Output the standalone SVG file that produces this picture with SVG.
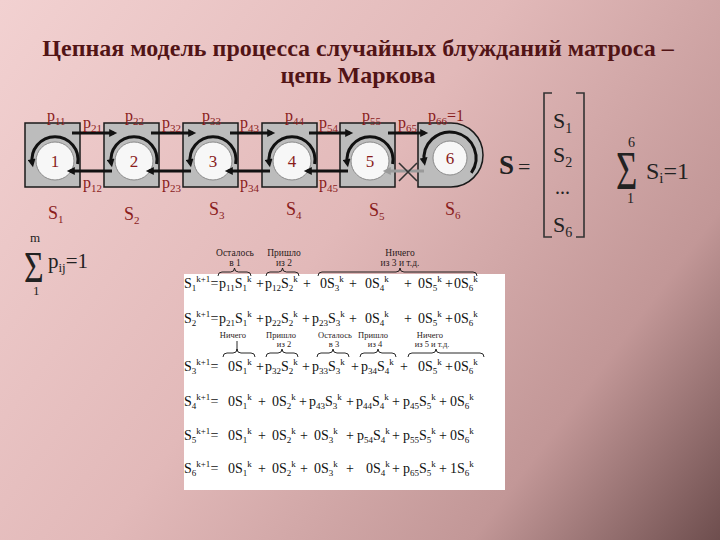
<svg xmlns="http://www.w3.org/2000/svg" width="720" height="540" viewBox="0 0 720 540">
<defs>
<linearGradient id="bg" x1="0" y1="0" x2="720" y2="540" gradientUnits="userSpaceOnUse">
<stop offset="0" stop-color="#f2d1d1"/>
<stop offset="0.45" stop-color="#e2b9b9"/>
<stop offset="0.78" stop-color="#c29797"/>
<stop offset="1" stop-color="#6e4e4e"/>
</linearGradient>
<marker id="ah" viewBox="0 0 10 10" refX="6" refY="5" markerWidth="9" markerHeight="8" markerUnits="userSpaceOnUse" orient="auto"><path d="M0,0 L10,5 L0,10 z" fill="#111"/></marker>
<marker id="ahg" viewBox="0 0 10 10" refX="6" refY="5" markerWidth="9" markerHeight="8" markerUnits="userSpaceOnUse" orient="auto"><path d="M0,0 L10,5 L0,10 z" fill="#9a9a9a"/></marker>
</defs>
<style>
.t{font-family:"Liberation Serif",serif;font-weight:bold;font-size:24px;fill:#521416;text-anchor:middle}
.lb{font-family:"Liberation Serif",serif;font-size:16px;fill:#8a1c1c}
.sl{font-family:"Liberation Serif",serif;font-size:18px;fill:#8a1c1c}
.ls{font-size:11px}
.box{fill:#bcbcbc;stroke:#1a1a1a;stroke-width:1.5}
.cir{fill:#f7f7f7;stroke:#8a8a8a;stroke-width:1}
.arc{fill:none;stroke:#111;stroke-width:3;marker-end:url(#ah)}
.ar{stroke:#111;stroke-width:3;marker-end:url(#ah)}
.arg{stroke:#9a9a9a;stroke-width:3;marker-end:url(#ahg)}
.num{font-family:"Liberation Serif",serif;font-size:17px;fill:#8a1c1c;text-anchor:middle}
.m{font-family:"Liberation Serif",serif;fill:#222}
.e{font-family:"Liberation Serif",serif;font-size:14px;fill:#111}
.s{font-size:9px}
.an{font-family:"Liberation Serif",serif;font-size:9.5px;fill:#2a1a1a;text-anchor:middle}
.an2{font-family:"Liberation Serif",serif;font-size:8.5px;fill:#2a1a1a;text-anchor:middle}
.br{fill:none;stroke:#111;stroke-width:0.9}
</style>
<rect width="720" height="540" fill="url(#bg)"/>
<g id="title">
<text class="t" x="358" y="56">Цепная модель процесса случайных блужданий матроса –</text>
<text class="t" x="358" y="83">цепь Маркова</text>
</g>
<g id="s1">
<rect class="box" x="25" y="123" width="55" height="64"/>
<circle class="cir" cx="55" cy="161" r="19"/>
<text class="num" x="55" y="167">1</text>
<path class="arc" d="M77.6,164 A23,23 0 1 0 32.4,164"/>
<text class="sl" x="48" y="219">S<tspan class="ls" dy="4">1</tspan></text>
</g>
<g id="s2">
<rect class="box" x="104" y="123" width="55" height="64"/>
<circle class="cir" cx="134" cy="161" r="19"/>
<text class="num" x="134" y="167">2</text>
<path class="arc" d="M156.6,164 A23,23 0 1 0 111.4,164"/>
<text class="sl" x="124" y="220">S<tspan class="ls" dy="4">2</tspan></text>
</g>
<g id="s3">
<rect class="box" x="183" y="123" width="55" height="64"/>
<circle class="cir" cx="213" cy="161" r="19"/>
<text class="num" x="213" y="167">3</text>
<path class="arc" d="M235.6,164 A23,23 0 1 0 190.4,164"/>
<text class="sl" x="209" y="215">S<tspan class="ls" dy="4">3</tspan></text>
</g>
<g id="s4">
<rect class="box" x="262" y="123" width="55" height="64"/>
<circle class="cir" cx="292" cy="161" r="19"/>
<text class="num" x="292" y="167">4</text>
<path class="arc" d="M314.6,164 A23,23 0 1 0 269.4,164"/>
<text class="sl" x="286" y="215">S<tspan class="ls" dy="4">4</tspan></text>
</g>
<g id="s5">
<rect class="box" x="340" y="123" width="55" height="64"/>
<circle class="cir" cx="370" cy="161" r="19"/>
<text class="num" x="370" y="167">5</text>
<path class="arc" d="M392.6,164 A23,23 0 1 0 347.4,164"/>
<text class="sl" x="369" y="216">S<tspan class="ls" dy="4">5</tspan></text>
</g>
<g id="s6">
<path class="box" d="M418,123 H451 A32,32 0 0 1 451,187 H418 Z"/>
<circle class="cir" cx="450" cy="158" r="17"/>
<text class="num" x="450" y="164">6</text>
<path class="arc" d="M471.3,172.9 A26,26 0 1 0 424.4,162.5"/>
<text class="sl" x="445" y="215">S<tspan class="ls" dy="4">6</tspan></text>
</g>
<g id="connectors">
<line class="ar" x1="72" y1="133" x2="114" y2="133"/>
<line class="ar" x1="151" y1="133" x2="193" y2="133"/>
<line class="ar" x1="230" y1="133" x2="272" y2="133"/>
<line class="ar" x1="309" y1="133" x2="350" y2="133"/>
<line class="ar" x1="388" y1="133" x2="425" y2="133"/>
<line class="ar" x1="112" y1="171" x2="70" y2="171"/>
<line class="ar" x1="191" y1="171" x2="149" y2="171"/>
<line class="ar" x1="270" y1="171" x2="228" y2="171"/>
<line class="ar" x1="348" y1="171" x2="307" y2="171"/>
<line class="arg" x1="424" y1="171" x2="386" y2="171"/>
<path d="M399,163 L417,181 M399,181 L417,163" stroke="#333" stroke-width="1.6"/>
</g>
<g id="labels">
<text class="lb" x="47" y="121">p<tspan class="ls" dy="4">11</tspan></text>
<text class="lb" x="125" y="121">p<tspan class="ls" dy="4">22</tspan></text>
<text class="lb" x="202" y="121">p<tspan class="ls" dy="4">33</tspan></text>
<text class="lb" x="285" y="121">p<tspan class="ls" dy="4">44</tspan></text>
<text class="lb" x="362" y="121">p<tspan class="ls" dy="4">55</tspan></text>
<text class="lb" x="428" y="121">p<tspan class="ls" dy="4">66</tspan><tspan dy="-4">=1</tspan></text>
<text class="lb" x="83" y="128">p<tspan class="ls" dy="4">21</tspan></text>
<text class="lb" x="162" y="128">p<tspan class="ls" dy="4">32</tspan></text>
<text class="lb" x="240" y="128">p<tspan class="ls" dy="4">43</tspan></text>
<text class="lb" x="319" y="128">p<tspan class="ls" dy="4">54</tspan></text>
<text class="lb" x="398" y="128">p<tspan class="ls" dy="4">65</tspan></text>
<text class="lb" x="83" y="188">p<tspan class="ls" dy="4">12</tspan></text>
<text class="lb" x="162" y="188">p<tspan class="ls" dy="4">23</tspan></text>
<text class="lb" x="240" y="188">p<tspan class="ls" dy="4">34</tspan></text>
<text class="lb" x="319" y="188">p<tspan class="ls" dy="4">45</tspan></text>
</g>
<g id="vector">
<text class="m" x="499" y="174" font-size="27" font-weight="bold">S</text>
<text class="m" x="518" y="174" font-size="22">=</text>
<path d="M552,93 H544 V237 H552 M576,93 H584 V237 H576" fill="none" stroke="#333" stroke-width="1.6"/>
<text class="m" x="553" y="128" font-size="22">S<tspan font-size="14" dy="5">1</tspan></text>
<text class="m" x="553" y="162" font-size="22">S<tspan font-size="14" dy="5">2</tspan></text>
<text class="m" x="555" y="194" font-size="20">...</text>
<text class="m" x="553" y="232" font-size="22">S<tspan font-size="14" dy="5">6</tspan></text>
</g>
<g id="sum1">
<text class="m" font-size="54" transform="translate(616,189) scale(0.68,1)">Σ</text>
<text class="m" x="628" y="147" font-size="14">6</text>
<text class="m" x="627" y="203" font-size="14">1</text>
<text class="m" x="646" y="179" font-size="24">S<tspan font-size="15" dy="4">i</tspan><tspan dy="-4">=1</tspan></text>
</g>
<g id="sum2">
<text class="m" font-size="45" transform="translate(24,282) scale(0.75,1)">Σ</text>
<text class="m" x="30" y="242" font-size="13">m</text>
<text class="m" x="33" y="295" font-size="13">1</text>
<text class="m" x="48" y="268" font-size="21">p<tspan font-size="13" dy="4">ij</tspan><tspan dy="-4">=1</tspan></text>
</g>
<g id="equations">
<rect x="184" y="274" width="321" height="216" fill="#ffffff"/>
<path class="br" d="M218,276 Q218,272 222,272 H230.5 Q234.5,272 234.5,268 Q234.5,272 238.5,272 H247 Q251,272 251,276"/>
<path class="br" d="M266,276 Q266,272 270,272 H278.5 Q282.5,272 282.5,268 Q282.5,272 286.5,272 H295 Q299,272 299,276"/>
<path class="br" d="M318,276 Q318,272 322,272 H396 Q400,272 400,268 Q400,272 404,272 H473 Q477,272 477,276"/>
<text class="an" x="235" y="256">Осталось</text><text class="an" x="235" y="266">в 1</text>
<text class="an" x="284" y="256">Пришло</text><text class="an" x="284" y="266">из 2</text>
<text class="an" x="400" y="256">Ничего</text><text class="an" x="400" y="266">из 3 и т.д.</text>
<path class="br" d="M223,357 Q223,353 227,353 H233 Q237,353 237,349 Q237,353 241,353 H251 Q255,353 255,357"/>
<path d="M237,341 V350" stroke="#111" stroke-width="0.9"/>
<path class="br" d="M266,357 Q266,353 270,353 H278 Q282,353 282,349 Q282,353 286,353 H294 Q298,353 298,357"/>
<path class="br" d="M317,357 Q317,353 321,353 H329 Q333,353 333,349 Q333,353 337,353 H345 Q349,353 349,357"/>
<path class="br" d="M360,357 Q360,353 364,353 H374 Q378,353 378,349 Q378,353 382,353 H392 Q396,353 396,357"/>
<path class="br" d="M408,357 Q408,353 412,353 H432 Q436,353 436,349 Q436,353 440,353 H480 Q484,353 484,357"/>
<text class="an2" x="233" y="338">Ничего</text>
<text class="an2" x="281" y="338">Пришло</text><text class="an2" x="284" y="347">из 2</text>
<text class="an2" x="335" y="338">Осталось</text><text class="an2" x="334" y="347">в 3</text>
<text class="an2" x="373" y="338">Пришло</text><text class="an2" x="375" y="347">из 4</text>
<text class="an2" x="430" y="338">Ничего</text><text class="an2" x="432" y="347">из 5 и т.д.</text>

<text class="e">
<tspan x="184" y="288">S</tspan><tspan class="s" y="291">1</tspan><tspan class="s" y="282">k+1</tspan><tspan y="288">=</tspan>
<tspan x="219" y="288">p</tspan><tspan class="s" y="291">11</tspan><tspan y="288">S</tspan><tspan class="s" y="291">1</tspan><tspan class="s" y="282">k</tspan>
<tspan x="256" y="288">+</tspan>
<tspan x="265" y="288">p</tspan><tspan class="s" y="291">12</tspan><tspan y="288">S</tspan><tspan class="s" y="291">2</tspan><tspan class="s" y="282">k</tspan>
<tspan x="303" y="288">+</tspan>
<tspan x="320" y="288">0S</tspan><tspan class="s" y="291">3</tspan><tspan class="s" y="282">k</tspan>
<tspan x="349" y="288">+</tspan>
<tspan x="365" y="288">0S</tspan><tspan class="s" y="291">4</tspan><tspan class="s" y="282">k</tspan>
<tspan x="404" y="288">+</tspan>
<tspan x="418" y="288">0S</tspan><tspan class="s" y="291">5</tspan><tspan class="s" y="282">k</tspan>
<tspan x="445" y="288">+</tspan>
<tspan x="454" y="288">0S</tspan><tspan class="s" y="291">6</tspan><tspan class="s" y="282">k</tspan>
</text>
<text class="e">
<tspan x="184" y="323">S</tspan><tspan class="s" y="326">2</tspan><tspan class="s" y="317">k+1</tspan><tspan y="323">=</tspan>
<tspan x="219" y="323">p</tspan><tspan class="s" y="326">21</tspan><tspan y="323">S</tspan><tspan class="s" y="326">1</tspan><tspan class="s" y="317">k</tspan>
<tspan x="256" y="323">+</tspan>
<tspan x="265" y="323">p</tspan><tspan class="s" y="326">22</tspan><tspan y="323">S</tspan><tspan class="s" y="326">2</tspan><tspan class="s" y="317">k</tspan>
<tspan x="302" y="323">+</tspan>
<tspan x="312" y="323">p</tspan><tspan class="s" y="326">23</tspan><tspan y="323">S</tspan><tspan class="s" y="326">3</tspan><tspan class="s" y="317">k</tspan>
<tspan x="349" y="323">+</tspan>
<tspan x="365" y="323">0S</tspan><tspan class="s" y="326">4</tspan><tspan class="s" y="317">k</tspan>
<tspan x="404" y="323">+</tspan>
<tspan x="418" y="323">0S</tspan><tspan class="s" y="326">5</tspan><tspan class="s" y="317">k</tspan>
<tspan x="445" y="323">+</tspan>
<tspan x="454" y="323">0S</tspan><tspan class="s" y="326">6</tspan><tspan class="s" y="317">k</tspan>
</text>
<text class="e">
<tspan x="184" y="371">S</tspan><tspan class="s" y="374">3</tspan><tspan class="s" y="365">k+1</tspan><tspan y="371">=</tspan>
<tspan x="228" y="371">0S</tspan><tspan class="s" y="374">1</tspan><tspan class="s" y="365">k</tspan>
<tspan x="256" y="371">+</tspan>
<tspan x="265" y="371">p</tspan><tspan class="s" y="374">32</tspan><tspan y="371">S</tspan><tspan class="s" y="374">2</tspan><tspan class="s" y="365">k</tspan>
<tspan x="302" y="371">+</tspan>
<tspan x="312" y="371">p</tspan><tspan class="s" y="374">33</tspan><tspan y="371">S</tspan><tspan class="s" y="374">3</tspan><tspan class="s" y="365">k</tspan>
<tspan x="351" y="371">+</tspan>
<tspan x="361" y="371">p</tspan><tspan class="s" y="374">34</tspan><tspan y="371">S</tspan><tspan class="s" y="374">4</tspan><tspan class="s" y="365">k</tspan>
<tspan x="400" y="371">+</tspan>
<tspan x="418" y="371">0S</tspan><tspan class="s" y="374">5</tspan><tspan class="s" y="365">k</tspan>
<tspan x="445" y="371">+</tspan>
<tspan x="454" y="371">0S</tspan><tspan class="s" y="374">6</tspan><tspan class="s" y="365">k</tspan>
</text>
<text class="e">
<tspan x="184" y="406">S</tspan><tspan class="s" y="409">4</tspan><tspan class="s" y="400">k+1</tspan><tspan y="406">=</tspan>
<tspan x="228" y="406">0S</tspan><tspan class="s" y="409">1</tspan><tspan class="s" y="400">k</tspan>
<tspan x="258" y="406">+</tspan>
<tspan x="272" y="406">0S</tspan><tspan class="s" y="409">2</tspan><tspan class="s" y="400">k</tspan>
<tspan x="299" y="406">+</tspan>
<tspan x="309" y="406">p</tspan><tspan class="s" y="409">43</tspan><tspan y="406">S</tspan><tspan class="s" y="409">3</tspan><tspan class="s" y="400">k</tspan>
<tspan x="346" y="406">+</tspan>
<tspan x="356" y="406">p</tspan><tspan class="s" y="409">44</tspan><tspan y="406">S</tspan><tspan class="s" y="409">4</tspan><tspan class="s" y="400">k</tspan>
<tspan x="392" y="406">+</tspan>
<tspan x="403" y="406">p</tspan><tspan class="s" y="409">45</tspan><tspan y="406">S</tspan><tspan class="s" y="409">5</tspan><tspan class="s" y="400">k</tspan>
<tspan x="439" y="406">+</tspan>
<tspan x="450" y="406">0S</tspan><tspan class="s" y="409">6</tspan><tspan class="s" y="400">k</tspan>
</text>
<text class="e">
<tspan x="184" y="440">S</tspan><tspan class="s" y="443">5</tspan><tspan class="s" y="434">k+1</tspan><tspan y="440">=</tspan>
<tspan x="228" y="440">0S</tspan><tspan class="s" y="443">1</tspan><tspan class="s" y="434">k</tspan>
<tspan x="258" y="440">+</tspan>
<tspan x="272" y="440">0S</tspan><tspan class="s" y="443">2</tspan><tspan class="s" y="434">k</tspan>
<tspan x="300" y="440">+</tspan>
<tspan x="314" y="440">0S</tspan><tspan class="s" y="443">3</tspan><tspan class="s" y="434">k</tspan>
<tspan x="346" y="440">+</tspan>
<tspan x="357" y="440">p</tspan><tspan class="s" y="443">54</tspan><tspan y="440">S</tspan><tspan class="s" y="443">4</tspan><tspan class="s" y="434">k</tspan>
<tspan x="392" y="440">+</tspan>
<tspan x="403" y="440">p</tspan><tspan class="s" y="443">55</tspan><tspan y="440">S</tspan><tspan class="s" y="443">5</tspan><tspan class="s" y="434">k</tspan>
<tspan x="439" y="440">+</tspan>
<tspan x="450" y="440">0S</tspan><tspan class="s" y="443">6</tspan><tspan class="s" y="434">k</tspan>
</text>
<text class="e">
<tspan x="184" y="473">S</tspan><tspan class="s" y="476">6</tspan><tspan class="s" y="467">k+1</tspan><tspan y="473">=</tspan>
<tspan x="228" y="473">0S</tspan><tspan class="s" y="476">1</tspan><tspan class="s" y="467">k</tspan>
<tspan x="258" y="473">+</tspan>
<tspan x="272" y="473">0S</tspan><tspan class="s" y="476">2</tspan><tspan class="s" y="467">k</tspan>
<tspan x="300" y="473">+</tspan>
<tspan x="314" y="473">0S</tspan><tspan class="s" y="476">3</tspan><tspan class="s" y="467">k</tspan>
<tspan x="346" y="473">+</tspan>
<tspan x="366" y="473">0S</tspan><tspan class="s" y="476">4</tspan><tspan class="s" y="467">k</tspan>
<tspan x="392" y="473">+</tspan>
<tspan x="403" y="473">p</tspan><tspan class="s" y="476">65</tspan><tspan y="473">S</tspan><tspan class="s" y="476">5</tspan><tspan class="s" y="467">k</tspan>
<tspan x="439" y="473">+</tspan>
<tspan x="450" y="473">1S</tspan><tspan class="s" y="476">6</tspan><tspan class="s" y="467">k</tspan>
</text>
</g>
</svg>
